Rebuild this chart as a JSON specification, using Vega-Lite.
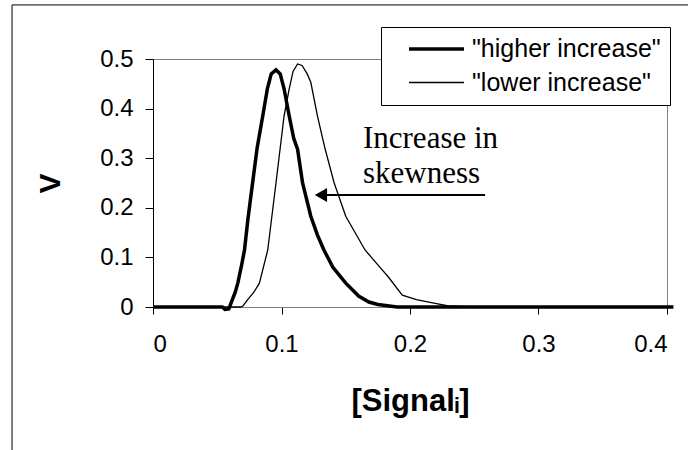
{
  "$schema": "https://vega.github.io/schema/vega-lite/v6.json",
  "autosize": "none",
  "width": 514,
  "height": 248,
  "padding": {"left": 153, "top": 59, "right": 21, "bottom": 143},
  "background": "white",
  "config": {
    "view": {"stroke": "#808080", "strokeWidth": 1},
    "font": "Liberation Sans",
    "legend": {
      "orient": "none",
      "legendX": 228,
      "legendY": -32,
      "strokeColor": "black",
      "fillColor": "white",
      "padding": 9,
      "symbolOffset": 33.5,
      "symbolType": "M-2.5,0H2.5",
      "symbolSize": 484,
      "symbolStrokeColor": "black",
      "labelFontSize": 25,
      "labelColor": "black",
      "labelOffset": 22.5,
      "labelLimit": 400,
      "rowPadding": 8,
      "title": null
    }
  },
  "datasets": {
    "curves": [
      {"x": 0, "v": 0, "s": "\"higher increase\""},
      {"x": 0.02, "v": 0, "s": "\"higher increase\""},
      {"x": 0.04, "v": 0, "s": "\"higher increase\""},
      {"x": 0.054, "v": 0, "s": "\"higher increase\""},
      {"x": 0.056, "v": -0.005, "s": "\"higher increase\""},
      {"x": 0.059, "v": -0.004, "s": "\"higher increase\""},
      {"x": 0.061, "v": 0.01, "s": "\"higher increase\""},
      {"x": 0.064, "v": 0.03, "s": "\"higher increase\""},
      {"x": 0.066, "v": 0.048, "s": "\"higher increase\""},
      {"x": 0.069, "v": 0.085, "s": "\"higher increase\""},
      {"x": 0.0712, "v": 0.115, "s": "\"higher increase\""},
      {"x": 0.074, "v": 0.18, "s": "\"higher increase\""},
      {"x": 0.0775, "v": 0.25, "s": "\"higher increase\""},
      {"x": 0.081, "v": 0.32, "s": "\"higher increase\""},
      {"x": 0.0854, "v": 0.385, "s": "\"higher increase\""},
      {"x": 0.089, "v": 0.44, "s": "\"higher increase\""},
      {"x": 0.092, "v": 0.47, "s": "\"higher increase\""},
      {"x": 0.0957, "v": 0.478, "s": "\"higher increase\""},
      {"x": 0.099, "v": 0.47, "s": "\"higher increase\""},
      {"x": 0.102, "v": 0.44, "s": "\"higher increase\""},
      {"x": 0.106, "v": 0.385, "s": "\"higher increase\""},
      {"x": 0.1095, "v": 0.34, "s": "\"higher increase\""},
      {"x": 0.1125, "v": 0.318, "s": "\"higher increase\""},
      {"x": 0.1164, "v": 0.25, "s": "\"higher increase\""},
      {"x": 0.1228, "v": 0.183, "s": "\"higher increase\""},
      {"x": 0.128, "v": 0.145, "s": "\"higher increase\""},
      {"x": 0.133, "v": 0.115, "s": "\"higher increase\""},
      {"x": 0.14, "v": 0.08, "s": "\"higher increase\""},
      {"x": 0.15, "v": 0.048, "s": "\"higher increase\""},
      {"x": 0.16, "v": 0.022, "s": "\"higher increase\""},
      {"x": 0.168, "v": 0.01, "s": "\"higher increase\""},
      {"x": 0.175, "v": 0.005, "s": "\"higher increase\""},
      {"x": 0.181, "v": 0.003, "s": "\"higher increase\""},
      {"x": 0.19, "v": 0, "s": "\"higher increase\""},
      {"x": 0.25, "v": 0, "s": "\"higher increase\""},
      {"x": 0.3, "v": 0, "s": "\"higher increase\""},
      {"x": 0.35, "v": 0, "s": "\"higher increase\""},
      {"x": 0.405, "v": 0, "s": "\"higher increase\""},
      {"x": 0, "v": 0, "s": "\"lower increase\""},
      {"x": 0.05, "v": 0, "s": "\"lower increase\""},
      {"x": 0.068, "v": 0, "s": "\"lower increase\""},
      {"x": 0.07, "v": 0.002, "s": "\"lower increase\""},
      {"x": 0.0737, "v": 0.015, "s": "\"lower increase\""},
      {"x": 0.0785, "v": 0.03, "s": "\"lower increase\""},
      {"x": 0.0828, "v": 0.048, "s": "\"lower increase\""},
      {"x": 0.0893, "v": 0.115, "s": "\"lower increase\""},
      {"x": 0.0957, "v": 0.25, "s": "\"lower increase\""},
      {"x": 0.102, "v": 0.385, "s": "\"lower increase\""},
      {"x": 0.106, "v": 0.44, "s": "\"lower increase\""},
      {"x": 0.109, "v": 0.475, "s": "\"lower increase\""},
      {"x": 0.1125, "v": 0.49, "s": "\"lower increase\""},
      {"x": 0.116, "v": 0.487, "s": "\"lower increase\""},
      {"x": 0.12, "v": 0.47, "s": "\"lower increase\""},
      {"x": 0.1228, "v": 0.453, "s": "\"lower increase\""},
      {"x": 0.128, "v": 0.385, "s": "\"lower increase\""},
      {"x": 0.134, "v": 0.318, "s": "\"lower increase\""},
      {"x": 0.141, "v": 0.25, "s": "\"lower increase\""},
      {"x": 0.15, "v": 0.183, "s": "\"lower increase\""},
      {"x": 0.165, "v": 0.115, "s": "\"lower increase\""},
      {"x": 0.175, "v": 0.085, "s": "\"lower increase\""},
      {"x": 0.183, "v": 0.061, "s": "\"lower increase\""},
      {"x": 0.194, "v": 0.024, "s": "\"lower increase\""},
      {"x": 0.205, "v": 0.015, "s": "\"lower increase\""},
      {"x": 0.2196, "v": 0.0075, "s": "\"lower increase\""},
      {"x": 0.23, "v": 0.002, "s": "\"lower increase\""},
      {"x": 0.24, "v": 0.001, "s": "\"lower increase\""},
      {"x": 0.25, "v": 0, "s": "\"lower increase\""},
      {"x": 0.3, "v": 0, "s": "\"lower increase\""},
      {"x": 0.4, "v": 0, "s": "\"lower increase\""}
    ],
    "frame": [{"x": -0.1097, "x1": 0.5, "v": -0.5, "v1": 0.609}],
    "notes": [
      {"x": 0.1634, "v": 0.3206, "t": "Increase in"},
      {"x": 0.1634, "v": 0.25, "t": "skewness"}
    ],
    "arrow": [{"x": 0.1307, "x2": 0.2584, "v": 0.2258}]
  },
  "layer": [
    {
      "data": {"name": "curves"},
      "mark": {"type": "line", "color": "black", "clip": false},
      "encoding": {
        "x": {
          "field": "x", "type": "quantitative",
          "scale": {"domain": [0, 0.4]},
          "axis": {
            "values": [0, 0.1, 0.2, 0.3, 0.4], "format": "~g", "grid": false,
            "title": "[Signalᵢ]", "titleFontSize": 31, "titleFontWeight": "bold", "titleColor": "black", "titlePadding": 30,
            "labelFontSize": 24, "labelColor": "black", "labelPadding": 18,
            "tickSize": 7, "tickColor": "black", "domainColor": "#808080"
          }
        },
        "y": {
          "field": "v", "type": "quantitative",
          "scale": {"domain": [0, 0.5]},
          "axis": {
            "values": [0, 0.1, 0.2, 0.3, 0.4, 0.5], "format": "~g", "grid": false,
            "title": "V", "titleFontSize": 30, "titleFontWeight": "bold", "titleColor": "black", "titlePadding": 34,
            "labelFontSize": 24, "labelColor": "black", "labelPadding": 12,
            "tickSize": 8, "tickColor": "black", "domainColor": "black"
          }
        },
        "detail": {"field": "s"},
        "strokeWidth": {
          "field": "s", "type": "nominal",
          "scale": {"domain": ["\"higher increase\"", "\"lower increase\""], "range": [3.5, 1.3]}
        },
        "order": {"field": "x", "type": "quantitative"}
      }
    },
    {
      "data": {"name": "frame"},
      "mark": {"type": "rect", "fill": null, "stroke": "black", "strokeWidth": 1, "clip": false},
      "encoding": {
        "x": {"field": "x", "type": "quantitative", "scale": {"domain": [0, 0.4]}},
        "x2": {"field": "x1"},
        "y": {"field": "v", "type": "quantitative", "scale": {"domain": [0, 0.5]}},
        "y2": {"field": "v1"}
      }
    },
    {
      "data": {"name": "notes"},
      "mark": {"type": "text", "font": "Liberation Serif", "fontSize": 31, "align": "left", "baseline": "alphabetic", "color": "black"},
      "encoding": {
        "x": {"field": "x", "type": "quantitative", "scale": {"domain": [0, 0.4]}},
        "y": {"field": "v", "type": "quantitative", "scale": {"domain": [0, 0.5]}},
        "text": {"field": "t"}
      }
    },
    {
      "data": {"name": "arrow"},
      "mark": {"type": "rule", "color": "black", "strokeWidth": 2},
      "encoding": {
        "x": {"field": "x", "type": "quantitative", "scale": {"domain": [0, 0.4]}},
        "x2": {"field": "x2"},
        "y": {"field": "v", "type": "quantitative", "scale": {"domain": [0, 0.5]}}
      }
    },
    {
      "data": {"name": "arrow"},
      "mark": {"type": "point", "shape": "triangle-left", "filled": true, "color": "black", "size": 200, "opacity": 1},
      "encoding": {
        "x": {"field": "x", "type": "quantitative", "scale": {"domain": [0, 0.4]}},
        "y": {"field": "v", "type": "quantitative", "scale": {"domain": [0, 0.5]}}
      }
    }
  ]
}
